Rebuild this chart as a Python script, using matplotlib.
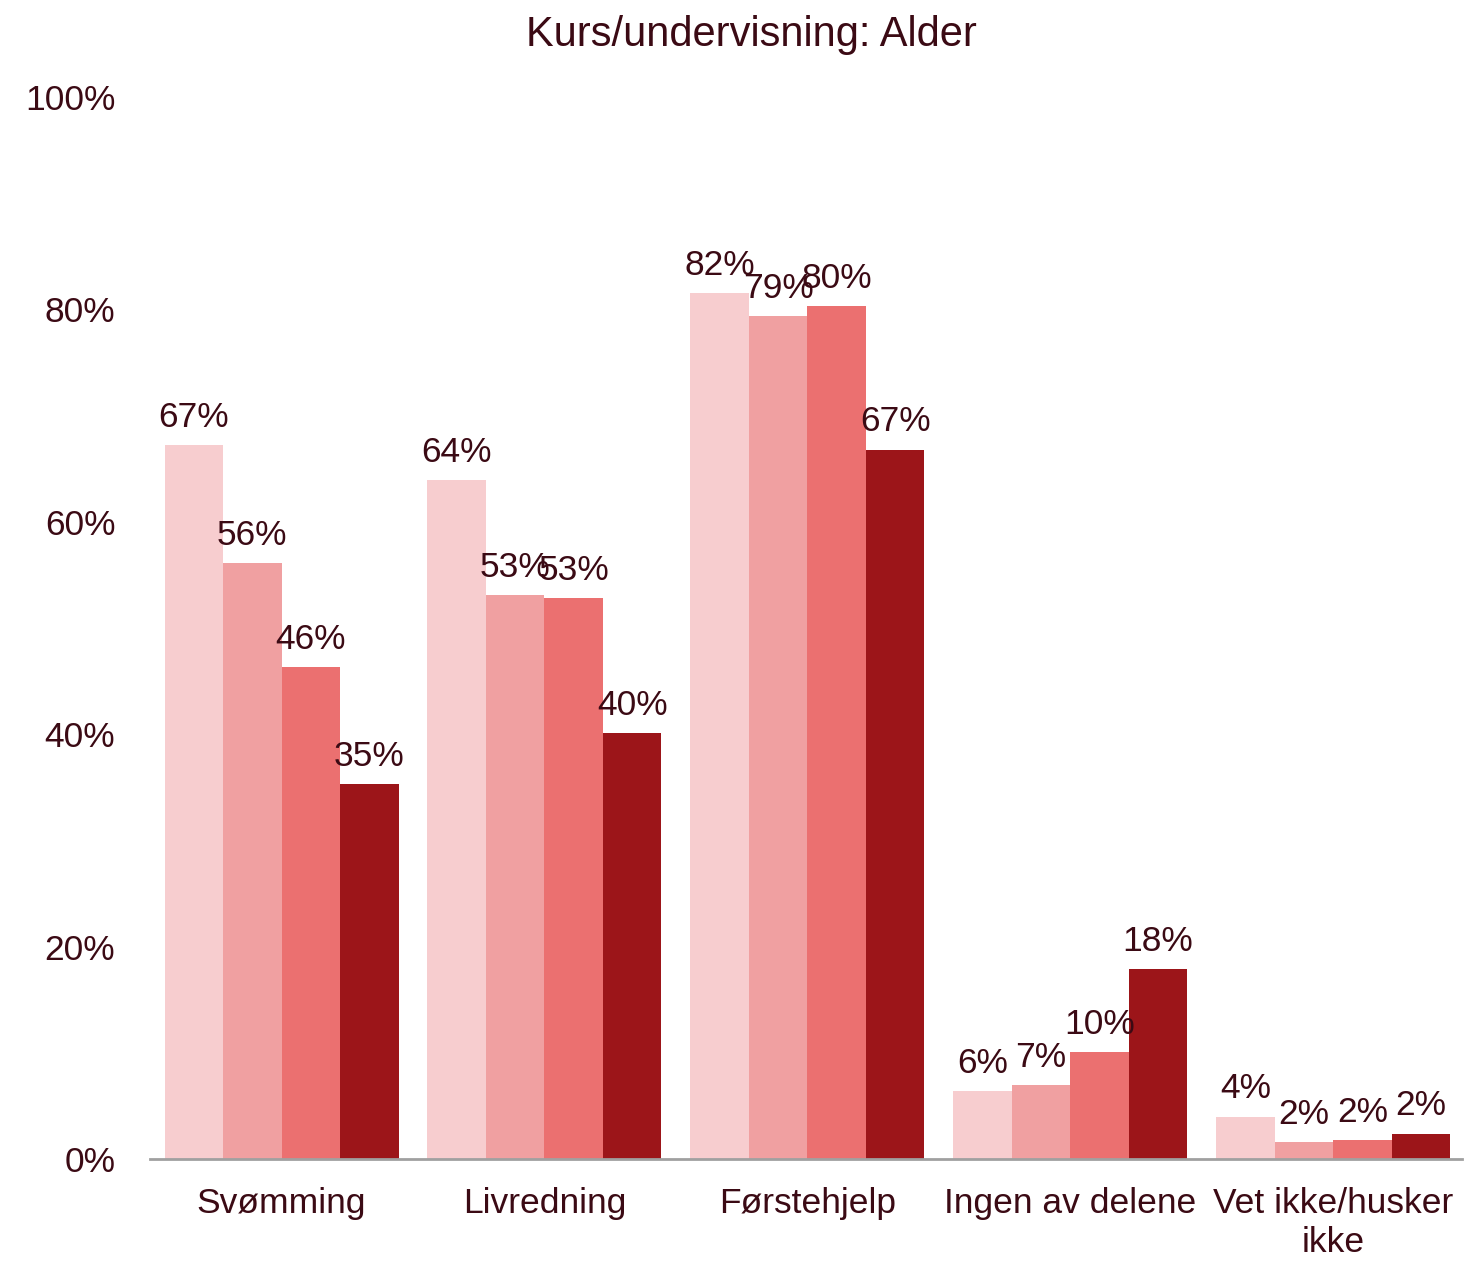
import matplotlib
matplotlib.use("Agg")
import matplotlib.pyplot as plt
import numpy as np

categories = ["Svømming", "Livredning", "Førstehjelp", "Ingen av delene", "Vet ikke/husker\nikke"]
group1 = [67.2, 63.9, 81.5, 6.4, 4.0]
group2 = [56.1, 53.1, 79.4, 7.0, 1.6]
group3 = [46.3, 52.8, 80.3, 10.1, 1.8]
group4 = [35.3, 40.1, 66.8, 17.9, 2.4]
series = [group1, group2, group3, group4]
colors = ["#F7CDCF", "#F0A0A1", "#EB7070", "#9C1519"]
yticks = [0, 20, 40, 60, 80, 100]

txt = "#3B0A14"
plt.rcParams['font.family'] = ['Liberation Sans', 'DejaVu Sans']
fs = 25.5

fig = plt.figure(figsize=(14.64, 12.63), dpi=100)
ax = fig.add_axes([0.1025, 0.0823, 0.8961, 0.8409])

x = np.arange(len(categories))
w = 0.2225
for i, vals in enumerate(series):
    pos = x + (i - 1.5) * w
    bars = ax.bar(pos, vals, width=w, color=colors[i], zorder=2)
    for b, v in zip(bars, vals):
        ax.annotate(f"{round(v):.0f}%", (b.get_x() + b.get_width() / 2, v),
                    xytext=(0, 8), textcoords="offset points",
                    ha="center", va="bottom", fontsize=fs, color=txt)

ax.set_xlim(-0.5, 4.49)
ax.set_ylim(0, 100)
ax.set_yticks(yticks)
ax.set_yticklabels([f"{t}%" for t in yticks], fontsize=fs, color=txt)
ax.set_xticks(x)
ax.set_xticklabels(categories, fontsize=fs, color=txt, linespacing=1.25)
ax.tick_params(axis="both", length=0)
ax.tick_params(axis="x", pad=20)
ax.tick_params(axis="y", pad=25)
for s in ["top", "right", "left"]:
    ax.spines[s].set_visible(False)
ax.spines["bottom"].set_color("#A0A0A0")
ax.spines["bottom"].set_linewidth(2)

fig.text(0.513, 0.972, "Kurs/undervisning: Alder", ha="center", va="center",
         fontsize=30, color=txt, family=['Liberation Sans Narrow', 'Liberation Sans', 'DejaVu Sans'])

fig.savefig("out.png", dpi=100)
